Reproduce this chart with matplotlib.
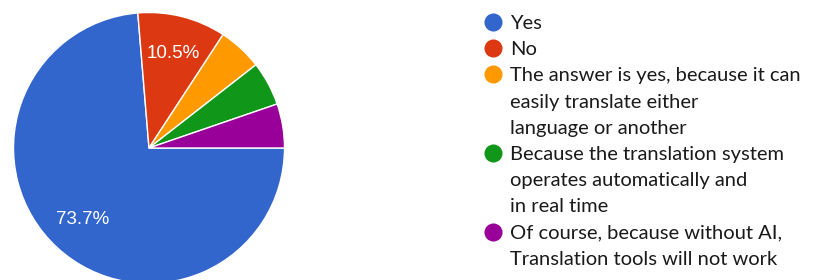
import matplotlib
matplotlib.use('Agg')
import matplotlib.pyplot as plt

# survey answers (19 responses)
labels = [
    'Yes',
    'No',
    'The answer is yes, because it can\neasily translate either\nlanguage or another',
    'Because the translation system\noperates automatically and\nin real time',
    'Of course, because without AI,\nTranslation tools will not work',
]
counts = [14, 2, 1, 1, 1]
colors = ['#3366CC', '#DC3912', '#FF9900', '#109618', '#990099']

W, H = 825, 280
fig = plt.figure(figsize=(W / 100, H / 100), dpi=100)

# pie: centre at (149, 148) px, radius 135.5 px
cx, cy, r = 149, 148, 135.5
ax = fig.add_axes([(cx - r) / W, (H - cy - r) / H, 2 * r / W, 2 * r / H])


def pct_label(p):
    return f'{p:.1f}%' if p > 8 else ''


wedges, texts, autotexts = ax.pie(
    counts, colors=colors, startangle=0, counterclock=False,
    radius=1, autopct=pct_label, pctdistance=0.72,
    wedgeprops=dict(edgecolor='white', linewidth=1))
for t in autotexts:
    t.set_color('white')
    t.set_family('Liberation Sans')
    t.set_fontsize(13.5)
ax.set_xlim(-1, 1)
ax.set_ylim(-1, 1)
ax.set_aspect('equal')
ax.axis('off')

# legend drawn in pixel coordinates
lax = fig.add_axes([0, 0, 1, 1], facecolor='none')
lax.set_xlim(0, W)
lax.set_ylim(H, 0)
lax.axis('off')

line_y0, step = 22, 26.2
line = 0
for lab, col in zip(labels, colors):
    y = line_y0 + line * step
    lax.plot(493, y, marker='o', markersize=13, color=col, markeredgewidth=0)
    for sub in lab.split('\n'):
        yy = line_y0 + line * step
        lax.text(510, yy + 7, sub, fontsize=14.5, family='Lato',
                 color='#1a1a1a', va='baseline', ha='left')
        line += 1

fig.savefig('out.png', dpi=100)
